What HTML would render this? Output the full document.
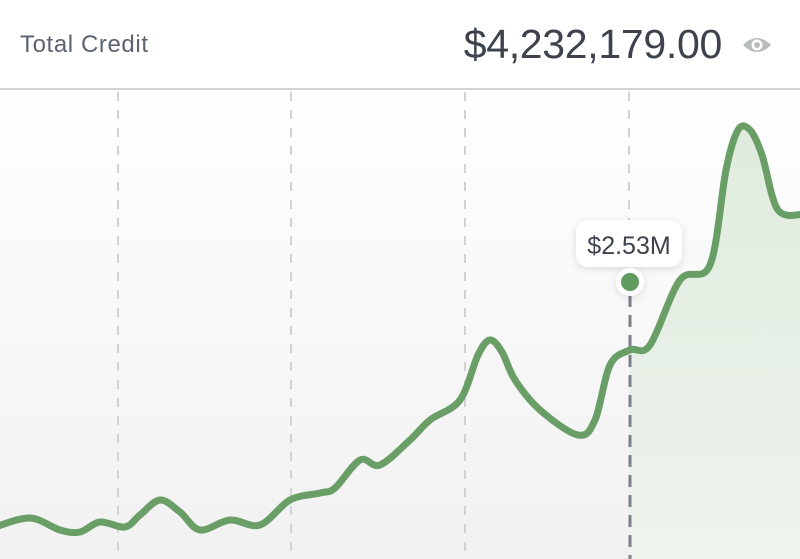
<!DOCTYPE html>
<html><head><meta charset="utf-8"><style>
body{margin:0;width:800px;height:559px;overflow:hidden;background:#fff;font-family:"Liberation Sans",sans-serif}
.hdr{position:absolute;left:0;top:0;width:800px;height:88px;background:#fff;border-bottom:2px solid #d4d4d6}
.t1{position:absolute;left:20px;top:31px;font-size:24px;color:#5c6270;letter-spacing:0.6px}
.t2{position:absolute;right:78px;top:21px;font-size:41px;color:#3d424c;letter-spacing:-0.3px}
</style></head><body>
<svg width="800" height="559" style="position:absolute;left:0;top:0">
<defs>
<linearGradient id="bg" x1="0" y1="0" x2="0" y2="1"><stop offset="0" stop-color="#fff"/><stop offset="1" stop-color="#f1f1f2"/></linearGradient>
<linearGradient id="gf" x1="0" y1="0" x2="0" y2="1"><stop offset="0" stop-color="#dfecdd"/><stop offset="1" stop-color="#eef3ee"/></linearGradient>
<clipPath id="cr"><rect x="630" y="0" width="170" height="559"/></clipPath>
<filter id="sh" x="-30%" y="-30%" width="160%" height="180%"><feDropShadow dx="0" dy="2" stdDeviation="4" flood-color="#000" flood-opacity="0.12"/></filter>
</defs>
<rect x="0" y="88" width="800" height="471" fill="url(#bg)"/>
<path id="area" clip-path="url(#cr)" fill="url(#gf)"/>
<g stroke="#d2d2d4" stroke-width="2" stroke-dasharray="9,9">
<line x1="118" y1="92" x2="118" y2="559"/><line x1="291" y1="92" x2="291" y2="559"/><line x1="465" y1="92" x2="465" y2="559"/><line x1="629" y1="92" x2="629" y2="240"/>
</g>
<line x1="630" y1="295" x2="630" y2="559" stroke="#7b7f88" stroke-width="3" stroke-dasharray="12,8"/>
<path id="ln" fill="none" stroke="#6a9e67" stroke-width="7" stroke-linecap="round"/>
<g filter="url(#sh)"><rect x="576" y="220" width="106" height="47" rx="12" fill="#fff"/><circle cx="630" cy="282" r="14" fill="#fff"/></g>
<circle cx="630" cy="282" r="9" fill="#5f9a5f"/>
<text x="629" y="254" text-anchor="middle" font-size="25" fill="#3d424c" font-family="Liberation Sans, sans-serif">$2.53M</text>
</svg>
<div class="hdr"><div class="t1">Total Credit</div><div class="t2">$4,232,179.00</div>
<svg style="position:absolute;left:741px;top:33px" width="32" height="24"><path d="M2 12 Q16 -2 30 12 Q16 26 2 12Z" fill="#b9bcbc"/><circle cx="16" cy="12" r="5.5" fill="#fff"/><circle cx="16" cy="12" r="3" fill="#b9bcbc"/></svg></div>
<script>
var p=[[-5,527],[30,518],[60,530],[80,532],[100,522],[125,527],[140,515],[160,500],[180,512],[200,530],[230,520],[260,525],[290,500],[320,493],[335,488],[360,460],[380,465],[410,440],[430,420],[460,400],[478,355],[490,340],[502,352],[515,380],[540,410],[578,435],[595,420],[610,365],[630,350],[650,345],[680,280],[710,265],[726,170],[738,130],[750,130],[762,155],[778,210],[805,214]];
var d="M"+p[0][0]+" "+p[0][1];
for(var i=0;i<p.length-1;i++){var a=p[i-1]||p[i],b=p[i],c=p[i+1],e=p[i+2]||c;
d+=" C"+(b[0]+(c[0]-a[0])/6)+" "+(b[1]+(c[1]-a[1])/6)+" "+(c[0]-(e[0]-b[0])/6)+" "+(c[1]-(e[1]-b[1])/6)+" "+c[0]+" "+c[1];}
document.getElementById("ln").setAttribute("d",d);
document.getElementById("area").setAttribute("d",d+" L805 560 L-5 560Z");
</script>
</body></html>
